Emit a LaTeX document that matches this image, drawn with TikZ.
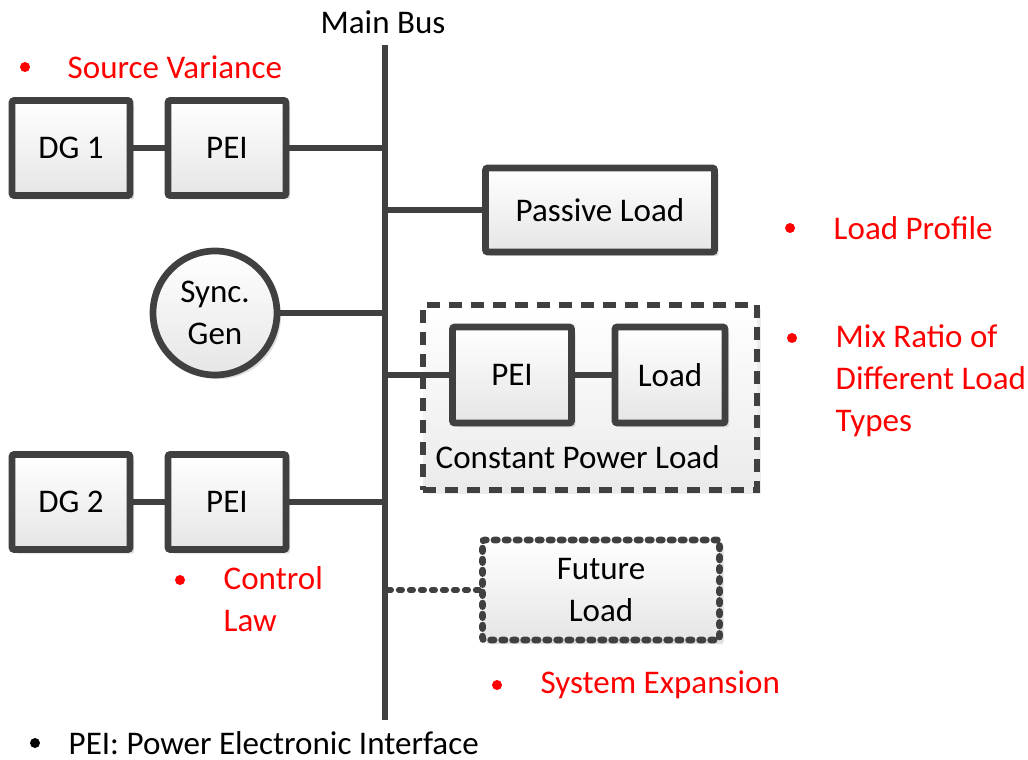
\documentclass[tikz,border=0pt]{standalone}
\usepackage{fontspec}
\setmainfont{Carlito}
\usetikzlibrary{shadows}

\begin{document}
\begin{tikzpicture}[x=0.1mm,y=-0.1mm,
  font=\fontsize{9.4}{12}\selectfont,
  wire/.style={draw=black!75,line width=1.9pt},
  blk/.style={wire,rounded corners=0.6pt,top color=white,bottom color=black!10,
    drop shadow={shadow xshift=0.4mm,shadow yshift=-0.4mm,fill=black!25,opacity=0.5},
    minimum width=11.8mm,minimum height=9.5mm,inner sep=0pt,align=center},
  note/.style={text=red,anchor=west,align=left,inner sep=0pt},
  dot/.style={fill=red}]
  \useasboundingbox (0,0) rectangle (1028,759);
  \coordinate (bt) at (385,45);
  \coordinate (bb) at (385,720);
  \draw[wire] (bt) -- (bb);
  \node (bus) at (383,22) {Main Bus};
  \node[blk] (dg1) at (71,148) {DG 1};
  \node[blk] (pei1) at (227,148) {PEI};
  \node[blk,minimum width=22.9mm,minimum height=8.4mm] (pl) at (600,210) {Passive Load};
  \node[blk,circle,minimum size=12.4mm] (sg) at (215,313) {Sync.\\Gen};
  \node[wire,dash pattern=on 1.3mm off 0.9mm,top color=white,bottom color=black!8,
    drop shadow={shadow xshift=0.4mm,shadow yshift=-0.4mm,fill=black!15,opacity=0.5},
    minimum width=33.4mm,minimum height=18.5mm] (cpl) at (590,397.5) {};
  \node[blk,minimum width=11.9mm,minimum height=9.6mm] (pei3) at (512,375) {PEI};
  \node[blk,minimum width=11mm,minimum height=9.6mm] (ld) at (670,375) {Load};
  \node[anchor=west,inner sep=0pt] (cpltext) at (435,457) {Constant Power Load};
  \node[blk] (dg2) at (71,502) {DG 2};
  \node[blk] (pei2) at (227,502) {PEI};
  \node[blk,dash pattern=on 0.35mm off 0.75mm,line cap=round,
    minimum width=23.7mm,minimum height=10mm] (fl) at (601,590) {Future\\Load};
  \draw[wire] (dg1) -- (pei1);
  \draw[wire] (pei1.east) -- (pei1.east -| bt);
  \draw[wire] (pl.west) -- (pl.west -| bt);
  \draw[wire] (sg.east) -- (sg.east -| bt);
  \draw[wire] (pei3.west) -- (pei3.west -| bt);
  \draw[wire] (pei3) -- (ld);
  \draw[wire] (dg2) -- (pei2);
  \draw[wire] (pei2.east) -- (pei2.east -| bt);
  \draw[wire,line width=1.6pt,dash pattern=on 0.35mm off 0.75mm,line cap=round] (fl.west) -- (fl.west -| bt);
  \fill[dot] (25,67) circle (5);
  \node[note] (sv) at (67,67) {Source Variance};
  \fill[dot] (790,228) circle (5);
  \node[note] (lp) at (833,228) {Load Profile};
  \fill[dot] (792,338) circle (5);
  \node[note,anchor=north west] (mr) at (835,324) {Mix Ratio of\\Different Load\\Types};
  \fill[dot] (180,580) circle (5);
  \node[note,anchor=north west] (cl) at (223,566) {Control\\Law};
  \fill[dot] (497,685) circle (5);
  \node[note] (se) at (540,685) {System Expansion};
  \fill (35,743) circle (5);
  \node[anchor=west,inner sep=0pt] (pei) at (68,743) {PEI: Power Electronic Interface};
\end{tikzpicture}
\end{document}
